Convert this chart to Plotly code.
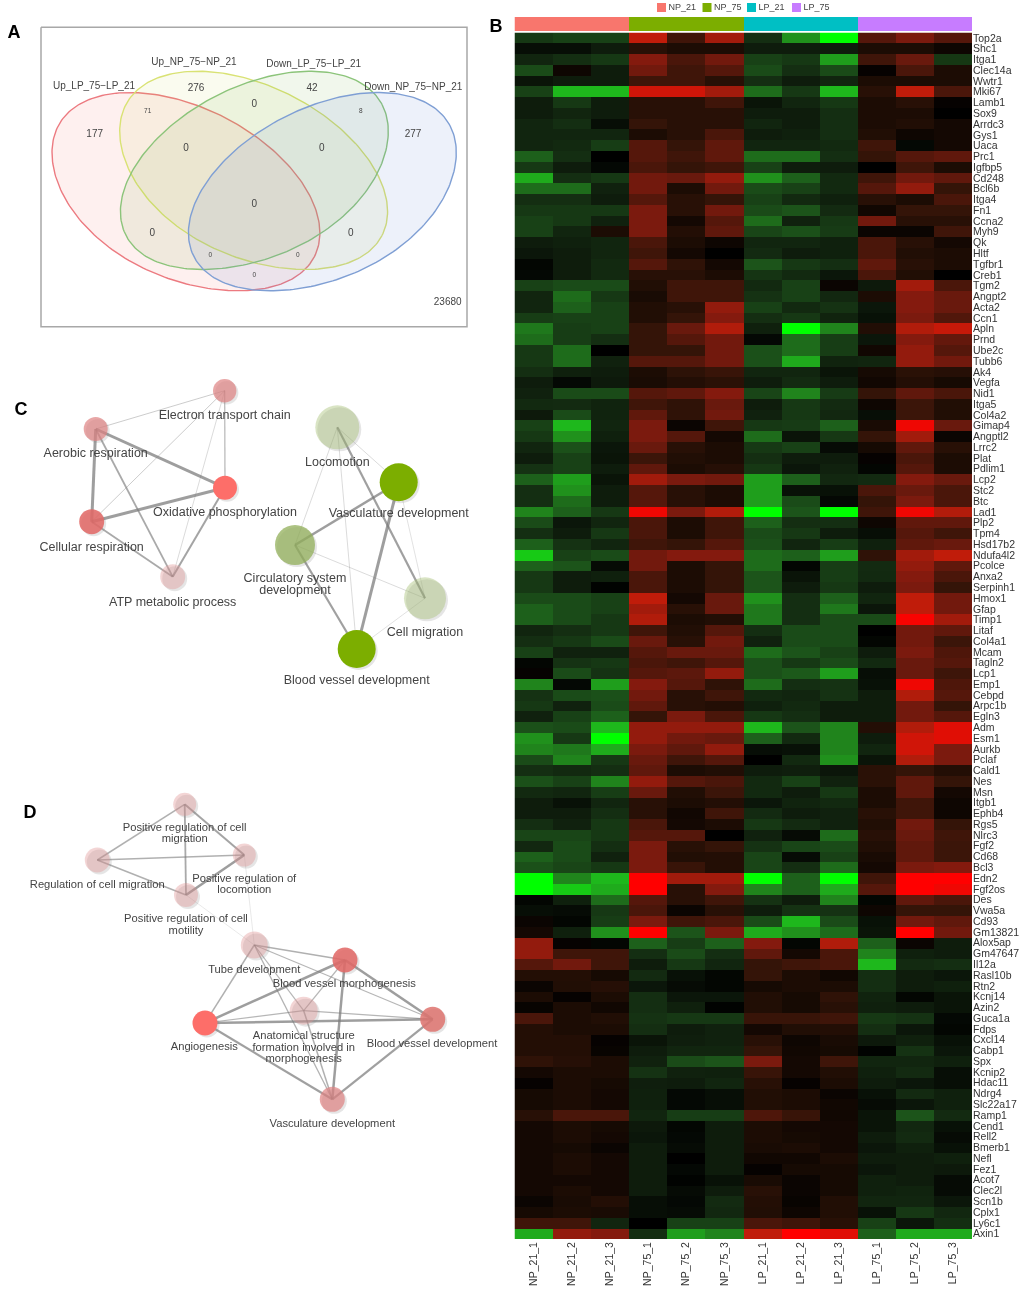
import math
import plotly.graph_objects as go

# ---------- panel B data ----------
samples = ["NP_21_1","NP_21_2","NP_21_3","NP_75_1","NP_75_2","NP_75_3",
           "LP_21_1","LP_21_2","LP_21_3","LP_75_1","LP_75_2","LP_75_3"]
groups = ["NP_21","NP_75","LP_21","LP_75"]
sample_group = [0,0,0,1,1,1,2,2,2,3,3,3]
genes = ["Top2a","Shc1","Itga1","Clec14a","Wwtr1","Mki67","Lamb1","Sox9","Arrdc3","Gys1",
"Uaca","Prc1","Igfbp5","Cd248","Bcl6b","Itga4","Fn1","Ccna2","Myh9","Qk","Hltf","Tgfbr1","Creb1",
"Tgm2","Angpt2","Acta2","Ccn1","Apln","Prnd","Ube2c","Tubb6","Ak4","Vegfa","Nid1","Itga5","Col4a2",
"Gimap4","Angptl2","Lrrc2","Plat","Pdlim1","Lcp2","Stc2","Btc","Lad1","Plp2","Tpm4","Hsd17b2",
"Ndufa4l2","Pcolce","Anxa2","Serpinh1","Hmox1","Gfap","Timp1","Litaf","Col4a1","Mcam","Tagln2",
"Lcp1","Emp1","Cebpd","Arpc1b","Egln3","Adm","Esm1","Aurkb","Pclaf","Cald1","Nes","Msn","Itgb1",
"Ephb4","Rgs5","Nlrc3","Fgf2","Cd68","Bcl3","Edn2","Fgf2os","Des","Vwa5a","Cd93","Gm13821",
"Alox5ap","Gm47647","Il12a","Rasl10b","Rtn2","Kcnj14","Azin2","Guca1a","Fdps","Cxcl14","Cabp1",
"Spx","Kcnip2","Hdac11","Ndrg4","Slc22a17","Ramp1","Cend1","Rell2","Bmerb1","Nefl","Fez1","Acot7",
"Clec2l","Scn1b","Cplx1","Ly6c1","Axin1"]
expression = [
[-2.5,-3,-3,8,2.5,7,-2,-6.5,-10,3.5,5.5,3.5],
[-.5,-.5,-1,1.5,1,1,-1,-1,-1,1,1,.5],
[-1.5,-2,-2.5,6,3,5,-3,-2.5,-7,2.5,4.5,-2.5],
[-3.5,.5,-1,5,2.5,3.5,-3.5,-2,-3.5,.2,3,1],
[-.7,-1,-1,2.5,2.5,1.5,-2,-1,-1.5,1,1,1],
[-3,-8,-8,8.5,8.5,7,-5,-2.5,-8,1.5,8,3],
[-1,-2.5,-1,1.5,1.5,2.5,-.7,-1.5,-2.5,1,1.5,.2],
[-1,-1.5,-1,1.5,1.5,1.5,-1,-1,-2,1,1,0],
[-1.5,-2,-.5,2,1.5,1.5,-1.5,-1,-2,1,1.2,.7],
[-1.5,-1.5,-1.5,1,1.5,3,-1,-1.2,-2,1.2,.5,.7],
[-1.5,-1.7,-2.8,3.5,2,4,-1.5,-1.5,-1.7,2.5,-.3,.7],
[-4.5,-2,0,3.5,2.5,4,-5,-5,-2,2,3.5,4],
[-2.5,-1,-.3,3,2,2.5,-3,-1,-1,0,2.5,1],
[-7.5,-2,-2.5,5,4.5,6.5,-6.5,-4.5,-1.7,2.5,5,4],
[-5,-5,-1.3,5,1,5,-3.5,-3,-1.7,3.5,6.5,2],
[-2,-2,-1,3.5,1.5,2,-3,-1.7,-1.2,1.5,1,3],
[-2.5,-2.5,-2.5,5.5,1.5,5,-3.5,-4,-1.8,.6,2,2],
[-3,-2.5,-1.3,5.5,.7,3.5,-5,-1.3,-2.5,5,1.5,1.5],
[-3,-1.5,1,5.5,1.3,4,-3.2,-3.8,-2.7,.4,.4,2.5],
[-1,-1.2,-1.5,3,1,.5,-1.5,-1.5,-1.2,3,1.5,.7],
[-.8,-1,-1.5,2.5,.7,0,-1.8,-1,-1.2,3,1.2,1],
[-.2,-1,-1.7,3.5,1.8,.7,-4,-2.5,-2,4,1.5,1],
[-.3,-1,-1.7,1.5,1.5,1,-2.3,-1.7,-.8,3,1.2,0],
[-3,-3.5,-3.5,1.2,2.5,2.5,-1.7,-3,.4,-.9,7,3],
[-1.5,-5,-2.5,.9,2.5,2.5,-2.2,-3,-1.6,1,6,4.5],
[-1.5,-4.5,-3,1.2,1.5,6.5,-3,-1.7,-2.2,-.8,6,4.5],
[-2.8,-3,-3,1.2,2,6,-2,-2.5,-1.4,-.6,5.5,3.3],
[-5.5,-2.8,-3,2,4.5,7.5,-1.2,-10,-6,1.2,7.5,8.2],
[-5,-2.8,-2,2,3.5,5,-.3,-5,-2.8,-.8,6,4.2],
[-2.5,-5,0,2,2,5,-3.8,-5,-2.8,.6,6.5,3.5],
[-2.5,-5,-1.3,3.5,3.5,5,-3.8,-7.5,-1.4,-1.5,6.5,5],
[-2,-1.2,-1,1,1.7,2.2,-1.5,-1.5,-.7,.8,1.6,1.4],
[-1,-.3,-.9,.9,1.3,1.6,-1,-1.8,-1,.6,1.3,.8],
[-1.3,-3.5,-3.5,3.5,4,6,-3.2,-6,-2.7,2,4,3],
[-1.7,-1.8,-1.4,2.5,1.8,4.5,-1,-2.5,-1.8,.5,2.3,1.2],
[-.9,-3.5,-1.4,4,1.8,5,-1.3,-2.5,-1.6,-.5,2.3,1.2],
[-3,-8,-1.5,5.5,.4,2.5,-2.5,-2.7,-4.5,.9,9.5,4.5],
[-2.5,-6.5,-1.2,5.5,3.5,.7,-5,-.7,-2.5,2,7,.4],
[-1.5,-3.8,-.8,4.5,1.5,1,-2.5,-3,-.4,.8,4,1.5],
[-1,-3,-.7,2.3,1.2,1,-2,-1,-1,.2,3,1],
[-2.2,-3,-1,4,1,1.4,-2.5,-.8,-1.3,-.2,3.5,1],
[-4.5,-7,-.7,7,5.5,5,-7,-4.5,-1.6,-1.8,6,4.5],
[-2,-6.5,-1,3.5,1.5,1,-7,-.6,-.6,3,4.5,3],
[-2,-5,-1,3.5,1.5,1,-7,-3.5,-.3,2,5.5,3],
[-6,-4.5,-2.5,9.5,5.5,7.5,-10,-4,-10,2.5,9.5,7.5],
[-3.5,-.8,-1.5,3,1,2.5,-4.5,-2,-2,.5,4,4],
[-2,-1,-2.5,3,1,2.5,-3.5,-2.5,-1,-.5,3.5,2.5],
[-4.5,-2.2,-1.5,2.5,2,3.5,-3.8,-1.5,-2.8,-1.2,4,4.5],
[-8.5,-3,-3.5,5,6,6,-5,-4.5,-7,1.8,7,8],
[-4.5,-4,-.4,5,1,2,-5,-.2,-2.8,-1.8,6.5,4],
[-2.5,-1,-1.2,3,1,2,-4,-.7,-2.8,-1.7,6,3],
[-2.5,-1,-.1,3,1,2,-4,-1,-2.5,-1,5.5,2],
[-3.5,-3.5,-3,8,.7,4.5,-6.5,-2,-4.5,-1.5,8,5],
[-4.5,-3.5,-3,7,1.5,4.5,-5.5,-2,-5.5,-.8,8,5],
[-4.5,-3.5,-2.5,7.5,1,1.2,-5.5,-2,-3.5,-3.5,9.8,7],
[-1.5,-2,-2.5,2.5,1.2,3.5,-2,-3.5,-3.5,0,5,4],
[-2,-2.5,-3.5,4.5,1.5,5,-1.3,-3.5,-3.5,-.2,5,2.3],
[-3,-1.3,-1.3,3.5,4.5,4.5,-5,-4,-3,-1,5.5,3.2],
[-.2,-2.2,-2.5,3,2.5,3.5,-3.8,-2.5,-3.5,-1.7,4.5,3.5],
[.2,-3.5,-2.2,3.5,3.8,6.5,-3.8,-4.2,-7,-.5,4.5,2.4],
[-6,-.3,-7,6,3.5,1.8,-5,-2,-2.2,-.6,9.5,3.2],
[-2.2,-3.5,-3.8,5,1.5,2.5,-1.7,-1.5,-2.2,-1,7.5,3.5],
[-2.5,-1.3,-3.5,4,1.5,1.3,-1.2,-1.7,-1,-1,5,2],
[-1.3,-3,-4.5,2,5.5,3,-2.5,-2,-1,-1,5,3.5],
[-3.8,-3.5,-8,6.5,6.5,6.5,-8,-4,-6,1.3,7.5,9],
[-6.5,-2.5,-10,6.5,5,4.5,-4.5,-1.7,-6,-1,8.5,9],
[-6,-5.5,-7.5,5.5,4,6.5,-.5,-.6,-6,-1.5,8.5,5.5],
[-3.5,-6,-2.5,4.5,2.5,3.5,0,-1.7,-6.5,-.7,7.5,5.5],
[-2,-1.7,-2,4,1,1.2,-1,-1.1,-.8,1.6,2,1.3],
[-3.8,-3,-6,6.5,3.5,3,-1.7,-3,-1.3,1.6,4,2],
[-1.7,-1.5,-2.8,4.5,1.2,2.3,-1.7,-1,-2.5,1,4,.7],
[-1,-.6,-1.5,1.5,1,1.3,-.8,-1.4,-1.7,1,2.5,.5],
[-1,-1,-2,1.5,.6,2.5,-1.8,-1,-1.3,1.5,2.5,.5],
[-2,-1.3,-2.5,3,.7,1,-2.5,-1.8,-1.3,1.2,5,2],
[-3.2,-3.2,-2.5,3.5,3.5,0,-1.3,-.4,-5,1.5,4.5,2.5],
[-1.6,-3.5,-2,5.5,1.5,2,-2.2,-3.2,-3.5,1.2,4,2.3],
[-4.5,-3.5,-1.3,5.5,1.2,1.3,-3.2,-.4,-3,.9,4,2.3],
[-3.8,-3.2,-2.5,5.5,2.2,1.3,-3.2,-2,-5,.7,5.5,6],
[-10,-6,-8,10,7,7,-10,-4.5,-10,2.5,10,10],
[-10,-8.5,-7.5,10,1.5,6,-6,-4.5,-7.5,3.5,10,9.5],
[-.2,-1.2,-5,3.5,1.5,2.5,-2.2,-1,-6,-.2,4,3],
[-.5,-.4,-2.5,3,.4,1.5,-1,-2.2,-2.2,.5,2,2],
[.4,-.2,-2.8,5.5,2.5,3,-3.5,-8,-3.5,-.6,5,4],
[.7,-1.2,-6.5,10,-4,5.5,-7.5,-6.5,-5,-.7,10,5],
[6.5,.2,-.2,-4.5,-2.8,-4.5,6,-.2,7.5,-4.5,.4,-1],
[6.5,2.5,2.5,-2,-3.5,-2,4,.7,3,-6,-1.2,-1],
[3.5,5,2.5,-1,-2.5,-1.5,2,2.5,3,-8,-1.8,-2],
[1.3,1.3,.8,-1.8,-.6,-.2,2,1,.6,-2,-1,-.8],
[.4,1.2,1.4,-.8,-.4,-.2,.8,1,1,-2,-1,-1.2],
[1,.2,1,-2,-.8,-.8,1.2,.8,1.8,-1.4,-.2,-.7],
[.3,1,.6,-2,-1.2,-.1,1.2,.8,1.5,-1.2,-1,-.7],
[3,1,1.2,-2.2,-2.5,-2.5,2.2,2.2,2.5,-2.5,-2.2,-.3],
[1.3,1,1,-2,-1,-1.3,.7,1.2,1.3,-2,-.8,-.2],
[1.3,1.3,.2,-.7,-1.1,-1.3,1.5,.5,.9,-.9,-1.2,-.6],
[1.3,1.3,.3,-1,-1.5,-1.5,2,.6,.8,-.1,-2.2,-.8],
[1.8,1.4,1,-1.3,-3.5,-4,5.5,.7,2.5,-1.5,-1.5,-1.2],
[.7,1,1,-2.2,-1.3,-1.2,2.2,.7,1.2,-1.2,-1.8,-.5],
[.2,1,.8,-1.1,-1,-1.5,1.5,.2,1,-1,-.8,-.5],
[.8,1,.7,-1.2,-.3,-.5,1.2,1,.4,-.6,-1.8,-1.2],
[.8,1,.7,-1.2,-.3,-.5,1.2,1,.6,-.4,-.8,-1.2],
[1.5,3,3,-1.5,-2.8,-2.8,3.2,2.2,.6,-.7,-4,-1.8],
[.7,1,.8,-.9,-.2,-1,1,.7,.7,-.7,-1.6,-.6],
[.7,1,.7,-.8,-.3,-1,1,.8,.7,-1,-1.8,-.4],
[.7,.8,.4,-1,-.4,-1,.9,1,.7,-.8,-1.2,-.6],
[.7,1,.7,-1,0,-1,.6,.6,1,-1,-1,-1.2],
[.7,1,.7,-1,-.3,-1,.2,.8,.8,-.8,-1,-.9],
[.7,.7,.7,-1,-.1,-.6,.9,.4,.8,-1.2,-1,-.4],
[.7,1,.7,-1,-.4,-1,1.5,.4,.8,-1.2,-1.4,-.4],
[.4,.9,1.3,-.5,-.3,-1.8,1.3,.3,1.2,-1.5,-1.5,-.8],
[.8,1,.9,-.5,-.4,-1.6,1.2,.5,1.2,-.6,-2.5,-1.6],
[2.5,2.5,-1.5,0,-3,-3,3,2.5,1.5,-3,-.8,-2],
[-7.5,6.5,6,-2,-7,-6,8,10,9,-4.5,-7.5,-7.5],
]

# ---------- panel A data ----------
venn_sets = ["Up_LP_75\u2212LP_21","Up_NP_75\u2212NP_21","Down_LP_75\u2212LP_21","Down_NP_75\u2212NP_21"]
venn_large_counts = ["177","276","42","277","0","0","0","0","0","0"]
venn_small_counts = ["71","8","0","0","0"]
venn_outside = "23680"

# ---------- panel C data ----------
c_terms = ["Electron transport chain","Aerobic respiration","Oxidative phosphorylation","Cellular respiration",
           "ATP metabolic process","Locomotion","Vasculature development","Circulatory system development",
           "Cell migration","Blood vessel development"]
c_edges = [(1,0,.8),(1,2,3),(1,3,3),(1,4,1.8),(3,0,.8),(3,2,3),(3,4,1.8),(2,4,2),(2,0,1.2),(4,0,.6),
           (5,6,.6),(5,7,.6),(5,9,.6),(5,8,2.2),(6,7,2.5),(6,9,3),(6,8,.5),(7,9,2.2),(7,8,.6),(9,8,.5)]

# ---------- panel D data ----------
d_terms = ["Positive regulation of cell migration","Regulation of cell migration","Positive regulation of locomotion",
           "Positive regulation of cell motility","Tube development","Blood vessel morphogenesis","Angiogenesis",
           "Anatomical structure formation involved in morphogenesis","Blood vessel development","Vasculature development"]
d_edges = [(0,1,1.5),(0,2,2),(0,3,1.8),(1,2,1.5),(1,3,1.5),(2,3,2.5),(3,4,.4),(2,4,.4),
           (4,5,1.5),(4,6,1.5),(4,8,1.2),(4,7,1.2),(4,9,1.3),(5,6,2.5),(5,8,2.5),(5,9,2.5),(5,7,1.2),
           (6,8,2.5),(6,7,1.2),(6,9,2.2),(8,9,2.2),(8,7,1.2),(7,9,1.5)]

# ---------- layout constants (pixels of the 1024x1289 page) ----------
W, H = 1024, 1289
HM_L, HM_R, HM_T, HM_B = 514.5, 972, 32.5, 1239
BAR_T, BAR_B = 17, 31
group_colors = ["#F8766D","#7CAE00","#00BFC4","#C77CFF"]
TXT = "#444444"
FONT = "Liberation Sans, Arial, sans-serif"

red = [(0,(0,0,0)),(1,(28,12,4)),(2,(52,20,8)),(4,(96,24,12)),(6,(132,26,14)),(8,(192,28,10)),(10,(255,0,0))]
grn = [(0,(0,0,0)),(1,(14,28,12)),(2,(20,46,18)),(4,(28,84,26)),(6,(32,132,28)),(8,(30,184,28)),(10,(0,255,0))]
cs = []
for m, c in reversed(grn):
    cs.append([(10-m)/20, f"rgb{c}"])
for m, c in red[1:]:
    cs.append([(10+m)/20, f"rgb{c}"])

fig = go.Figure()
fig.add_trace(go.Heatmap(z=expression, x=samples, y=genes, zmin=-10, zmax=10, colorscale=cs,
                         showscale=False, xgap=0, ygap=0, hoverinfo="skip"))
bar_scale = []
for i, c in enumerate(group_colors):
    bar_scale += [[i/4, c], [(i+1)/4, c]]
fig.add_trace(go.Heatmap(z=[[g+.5 for g in sample_group]], x=samples, y=["group"], zmin=0, zmax=4,
                         colorscale=bar_scale, showscale=False, xaxis="x2", yaxis="y2", hoverinfo="skip"))

def px(x, y, **k):
    fig.add_trace(go.Scatter(x=x, y=y, xaxis="x3", yaxis="y3", showlegend=False, hoverinfo="skip", **k))

def label(x, y, text, size, color=TXT, anchor="middle center", bold=False):
    px([x], [y], mode="text", text=[f"<b>{text}</b>" if bold else text], textposition=anchor,
       textfont=dict(size=size, color=color, family=FONT), cliponaxis=False)

# legend of panel B
legend_x = [661.5, 707, 751.5, 796.5]
px(legend_x, [7.5]*4, mode="markers", marker=dict(symbol="square", size=9, color=group_colors, opacity=1))
for lx, g in zip(legend_x, groups):
    label(lx+7, 7.5, g, 9, anchor="middle right")

# ---------- Venn ----------
def ellipse(cx, cy, a, b, deg):
    # slightly egg-shaped outline: the lower outer flank bulges like the original
    t = math.radians(deg); xs, ys = [], []
    peak = math.radians(105 if deg > 0 else 75)
    for i in range(241):
        u = 2*math.pi*i/240
        d = math.cos(u-peak)
        f = 1+.065*d**4 if d > 0 else 1
        ex, ey = f*a*math.cos(u), f*b*math.sin(u)
        xs.append(cx+ex*math.cos(t)-ey*math.sin(t))
        ys.append(cy+ex*math.sin(t)+ey*math.cos(t))
    return xs, ys

px([41,467,467,41,41],[27.3,27.3,326.7,326.7,27.3], mode="lines", line=dict(color="#a8a8a8", width=1.5))
venn_geo = [(186.3,191.3,27),(254,170,27),(254,170,-27),(322,191.3,-27)]
venn_line = ["#ec7a80","#d9e274","#8cc47a","#7f9fd4"]
venn_fill = ["rgba(245,90,80,.09)","rgba(200,215,80,.09)","rgba(120,180,70,.10)","rgba(90,130,210,.11)"]
for (cx,cy,deg),lc,fc in zip(venn_geo,venn_line,venn_fill):
    xs, ys = ellipse(cx,cy,143.8,83.2,deg)
    px(xs, ys, mode="lines", fill="toself", fillcolor=fc, line=dict(color=lc, width=1.4))
for (x,y),t in zip([(94,86.7),(194,62),(313.7,64.7),(413.3,87.7)], venn_sets):
    label(x,y,t,10)
large_pos = [(94.7,134.7),(196,88),(312,88),(413,134.7),(254.3,104),(186,148.7),(321.7,148.7),
             (254.3,204),(152.3,233.7),(350.7,233.7)]
for (x,y),t in zip(large_pos, venn_large_counts):
    label(x,y,t,10)
for (x,y),t in zip([(147.7,111),(360.7,111),(210.3,255.3),(297.7,255.3),(254.3,275.7)], venn_small_counts):
    label(x,y,t,6.5)
label(447.7,302,venn_outside,10)

# ---------- networks ----------
def network(terms, edges, pos, radius, colors, labels, size):
    xs=[p[0]+2 for p in pos]; ys=[p[1]+2 for p in pos]
    px(xs, ys, mode="markers", marker=dict(size=[2*r for r in radius], color="rgba(0,0,0,.10)", opacity=1, line=dict(width=0)))
    for a,b,w in edges:
        shade = min(.35+.16*w, .72)
        px([pos[a][0],pos[b][0]],[pos[a][1],pos[b][1]], mode="lines",
           line=dict(color=f"rgba(120,120,120,{shade:.2f})", width=w))
    px([p[0] for p in pos],[p[1] for p in pos], mode="markers",
       marker=dict(size=[2*r for r in radius], color=colors, opacity=1, line=dict(width=0)))
    for term, lines in zip(terms, labels):
        for (x,y,t) in lines:
            label(x,y,t,size)

STRONG = "rgb(253,110,105)"; MID = "rgba(225,105,102,.87)"; SOFT = "rgba(222,130,130,.7)"; PALE = "rgba(225,150,150,.4)"
G_STRONG = "#7CAE00"; G_MID = "rgba(145,175,90,.75)"; G_PALE = "rgba(165,190,115,.42)"

network(c_terms, c_edges,
    [(224.7,390.7),(95.7,429),(225,487.7),(91.7,521.7),(172.7,576.7),
     (337.3,427.3),(398.7,482.3),(295,545),(425,598.3),(356.7,649)],
    [11.7,12,12,12.5,12.5,22,19,20,21,19],
    [SOFT,SOFT,STRONG,MID,PALE,G_PALE,G_STRONG,G_MID,G_PALE,G_STRONG],
    [[(224.7,415.7,c_terms[0])],[(95.7,454.3,c_terms[1])],[(225,512.7,c_terms[2])],[(91.7,547.7,c_terms[3])],
     [(172.7,602.7,c_terms[4])],[(337.3,463,c_terms[5])],[(398.7,514.3,c_terms[6])],
     [(295,579.3,"Circulatory system"),(295,591.3,"development")],[(425,633.3,c_terms[8])],[(356.7,680.7,c_terms[9])]],
    12.5)

network(d_terms, d_edges,
    [(184.7,804.3),(97.3,860),(244.3,855),(186,895),(254.3,945),(345,960),(205,1023),(303.7,1010.7),(432.7,1019.3),(332.3,1099.3)],
    [11.5,12.5,11.5,12,13.5,12.5,12.5,14,12.5,12.5],
    [PALE]*5+[MID,STRONG,PALE,"rgba(222,115,110,.85)",SOFT],
    [[(184.7,828,"Positive regulation of cell"),(184.7,839.7,"migration")],[(97.3,885.7,d_terms[1])],
     [(244.3,879,"Positive regulation of"),(244.3,890.3,"locomotion")],
     [(186,919.7,"Positive regulation of cell"),(186,931.3,"motility")],[(254.3,970.7,d_terms[4])],
     [(344.3,984.3,d_terms[5])],[(204.3,1047.3,d_terms[6])],
     [(303.7,1036.7,"Anatomical structure"),(303.7,1048,"formation involved in"),(303.7,1059.3,"morphogenesis")],
     [(432,1044,d_terms[8])],[(332.3,1124,d_terms[9])]],
    11.2)

# panel letters
for (x,y),t in zip([(14,33),(496,27),(21,410),(30,813)],"ABCD"):
    label(x,y,t,18,color="#000000",bold=True)

fig.update_layout(
    width=W, height=H, margin=dict(l=0,r=0,t=0,b=0), paper_bgcolor="white", plot_bgcolor="rgba(0,0,0,0)",
    showlegend=False, font=dict(family=FONT),
    xaxis=dict(domain=[HM_L/W,HM_R/W], anchor="y", type="category", tickmode="array", tickvals=samples, tickangle=-90,
               tickfont=dict(size=10.5,color="#333333",family=FONT), ticks="", showgrid=False, zeroline=False, showline=False),
    yaxis=dict(domain=[1-HM_B/H,1-HM_T/H], anchor="x", type="category", autorange="reversed", side="right",
               tickmode="array", tickvals=genes, tickfont=dict(size=10.5,color="#333333",family=FONT), ticks="",
               showgrid=False, zeroline=False, showline=False),
    xaxis2=dict(domain=[HM_L/W,HM_R/W], anchor="y2", type="category", visible=False),
    yaxis2=dict(domain=[1-BAR_B/H,1-BAR_T/H], anchor="x2", type="category", visible=False),
    xaxis3=dict(domain=[0,1], anchor="y3", range=[0,W], visible=False, fixedrange=True),
    yaxis3=dict(domain=[0,1], anchor="x3", range=[H,0], visible=False, fixedrange=True),
)
post = ("document.body.style.margin='0';document.body.style.overflow='hidden';"
        "document.getElementById('{plot_id}').style.filter='blur(0.55px)';")
fig.write_html("out.html", post_script=post, config=dict(displayModeBar=False))
